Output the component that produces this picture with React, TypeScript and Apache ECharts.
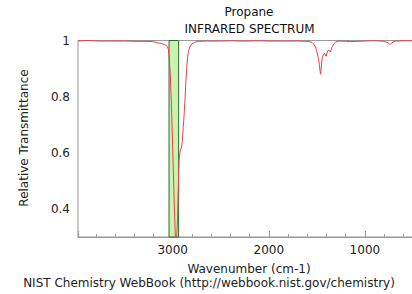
import React, { useEffect, useRef } from "react";
import * as echarts from "echarts";

const wavenumbers = [
  3985, 3940, 3880, 3820, 3760, 3700, 3600, 3500, 3400, 3300, 3200, 3160, 3120, 3090, 3070, 3055, 3045, 3038,
  3025, 3010, 2995, 2982, 2972, 2965, 2958, 2950, 2942, 2934, 2926, 2918, 2908, 2900, 2890, 2880, 2870, 2862,
  2854, 2845, 2835, 2820, 2800, 2770, 2730, 2650, 2500, 2400, 2300, 2200, 2100, 2000, 1900, 1800, 1700, 1620,
  1580, 1550, 1530, 1514, 1500, 1486, 1474, 1466, 1461, 1456, 1450, 1443, 1437, 1425, 1417, 1410, 1403, 1395,
  1385, 1375, 1365, 1357, 1350, 1341, 1320, 1305, 1271, 1200, 1150, 1083, 1000, 930, 875, 800, 760, 740, 725,
  700, 680, 600, 520, 450,
];
const transmittance = [
  0.998, 0.999, 1.0, 0.999, 0.998, 0.998, 0.998, 0.998, 0.997, 0.997, 0.996, 0.992, 0.989, 0.986, 0.983, 0.978,
  0.968, 0.95, 0.88, 0.74, 0.56, 0.4, 0.3, 0.28, 0.3, 0.36, 0.47, 0.57, 0.6, 0.61, 0.62, 0.64, 0.69, 0.74, 0.8,
  0.86, 0.9, 0.94, 0.963, 0.978, 0.988, 0.994, 0.997, 0.998, 0.998, 0.999, 0.998, 0.998, 0.999, 0.998, 0.998,
  0.998, 0.998, 0.997, 0.996, 0.993, 0.986, 0.977, 0.96, 0.94, 0.915, 0.89, 0.88, 0.895, 0.92, 0.94, 0.945,
  0.952, 0.954, 0.948, 0.944, 0.955, 0.964, 0.965, 0.962, 0.959, 0.97, 0.977, 0.989, 0.994, 0.998, 0.997,
  0.996, 0.997, 0.998, 0.999, 0.999, 0.997, 0.992, 0.986, 0.99, 0.996, 0.998, 0.999, 0.999, 0.998,
];
const highlightBand = [3038, 2938];
const xLabels = [1000, 2000, 3000];
const yLabels = [0.4, 0.6, 0.8, 1];

const FONT = "DejaVu Sans";

export default function App() {
  const ref = useRef<HTMLDivElement>(null);
  useEffect(() => {
    document.body.style.margin = "0";
    const chart = echarts.init(ref.current!, null, { renderer: "svg" });
    const data = wavenumbers.map((w, i) => [w, transmittance[i]]);
    chart.setOption({
      animation: false,
      backgroundColor: "#fff",
      textStyle: { fontFamily: FONT },
      grid: {
        left: 78,
        top: 40.5,
        width: 384.5,
        height: 196.5,
        show: true,
        borderColor: "#999",
        borderWidth: 1,
        backgroundColor: "transparent",
      },
      xAxis: {
        type: "value",
        inverse: true,
        min: 0,
        max: 3985,
        interval: 1000,
        axisLine: { lineStyle: { color: "#999", width: 1 } },
        axisTick: { show: true, inside: true, length: 6, lineStyle: { color: "#999" } },
        minorTick: { show: true, splitNumber: 5, length: 3, lineStyle: { color: "#999" } },
        splitLine: { show: false },
        axisLabel: {
          margin: 7,
          fontSize: 12,
          fontFamily: FONT,
          color: "#222",
          formatter: (v: number) => (xLabels.includes(Math.round(v)) ? String(Math.round(v)) : ""),
        },
      },
      yAxis: {
        type: "value",
        min: 0.3,
        max: 1,
        interval: 0.1,
        axisLine: { show: true, lineStyle: { color: "#999", width: 1 } },
        axisTick: { show: true, inside: false, length: 4, lineStyle: { color: "#999" } },
        splitLine: { show: false },
        axisLabel: {
          margin: 8,
          fontSize: 12,
          fontFamily: FONT,
          color: "#222",
          formatter: (v: number) => {
            const r = Math.round(v * 10) / 10;
            return yLabels.some((l) => Math.abs(l - r) < 1e-6) ? String(r) : "";
          },
        },
      },
      series: [
        {
          type: "line",
          data,
          showSymbol: false,
          symbol: "none",
          clip: true,
          lineStyle: { color: "#e8404c", width: 1 },
          markArea: {
            silent: true,
            itemStyle: { color: "#ccf2b0", borderColor: "#2d6b2d", borderWidth: 1 },
            data: [[{ xAxis: highlightBand[0] }, { xAxis: highlightBand[1] }]],
          },
          z: 3,
        },
      ],
      graphic: [
        {
          type: "text",
          x: 249,
          y: 12,
          style: { text: "Propane", font: `12px "${FONT}"`, fill: "#111", textAlign: "center", textVerticalAlign: "middle" },
        },
        {
          type: "text",
          x: 249.5,
          y: 29,
          style: {
            text: "INFRARED SPECTRUM",
            font: `12px "${FONT}"`,
            fill: "#111",
            textAlign: "center",
            textVerticalAlign: "middle",
          },
        },
        {
          type: "text",
          x: 24,
          y: 138,
          rotation: Math.PI / 2,
          style: {
            text: "Relative Transmittance",
            font: `12px "${FONT}"`,
            fill: "#222",
            textAlign: "center",
            textVerticalAlign: "middle",
          },
        },
        {
          type: "text",
          x: 249,
          y: 269,
          style: {
            text: "Wavenumber (cm-1)",
            font: `12px "${FONT}"`,
            fill: "#222",
            textAlign: "center",
            textVerticalAlign: "middle",
          },
        },
        {
          type: "text",
          x: 209,
          y: 283,
          style: {
            text: "NIST Chemistry WebBook (http://webbook.nist.gov/chemistry)",
            font: `12px "${FONT}"`,
            fill: "#222",
            textAlign: "center",
            textVerticalAlign: "middle",
          },
        },
      ],
    });
    return () => chart.dispose();
  }, []);
  return (
    <div style={{ width: 412, height: 294, overflow: "hidden", position: "relative" }}>
      <div ref={ref} style={{ width: 464, height: 294 }} />
    </div>
  );
}
